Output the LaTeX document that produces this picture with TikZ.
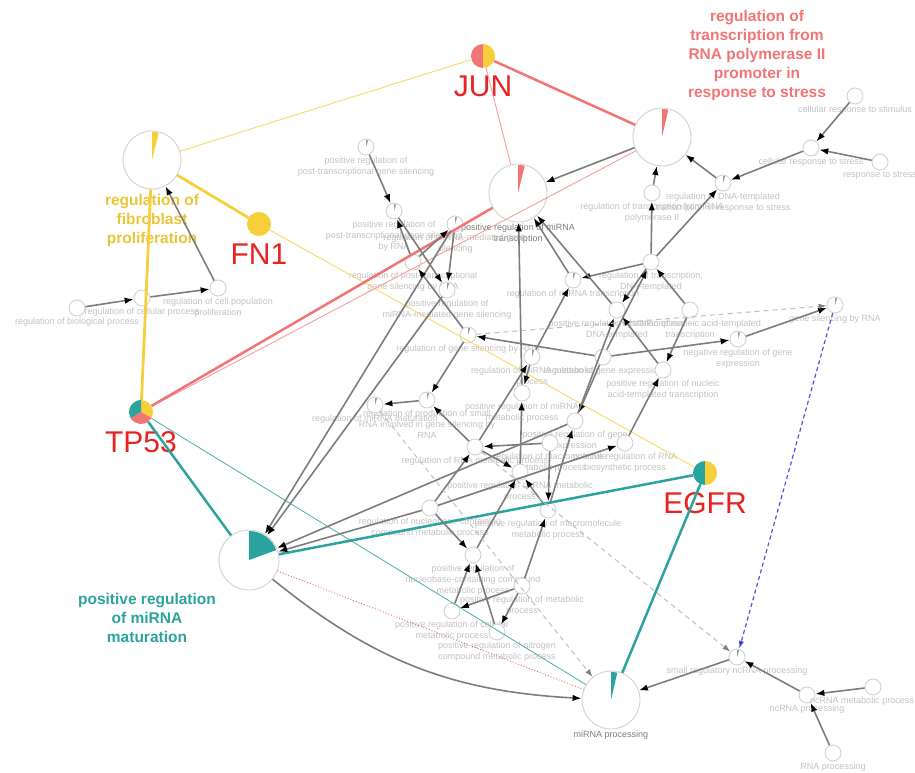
\documentclass[tikz,border=0pt]{standalone}
\usepackage{fontspec}
\setmainfont{Liberation Sans}
\usetikzlibrary{arrows.meta}

\definecolor{nodeb}{HTML}{D2D2D2}
\definecolor{lblc}{HTML}{C2C2C2}
\definecolor{lbld}{HTML}{7C7C7C}
\definecolor{edgec}{HTML}{7D7D7D}
\definecolor{genered}{HTML}{E8231F}
\definecolor{pinkc}{HTML}{F27474}
\definecolor{ylwc}{HTML}{F6CF3B}
\definecolor{tealc}{HTML}{2BA39E}
\definecolor{bluec}{HTML}{5252E0}
\definecolor{dashc}{HTML}{BEBEBE}
\definecolor{tickc}{HTML}{9A9A9A}

% one slice of a pie: node, colour, start angle, end angle, radius
\newcommand{\pieslice}[5]{\fill[#2] (#1.center) -- ++(#3:#5) arc[start angle=#3, end angle=#4, radius=#5] -- cycle;}

\begin{document}
\begin{tikzpicture}[x=1pt, y=-1pt,
    sm/.style = {draw=nodeb, fill=white, circle, minimum size=16pt, inner sep=0pt, line width=0.9pt},
    big/.style = {sm, minimum size=58pt},
    gene/.style = {circle, minimum size=24pt, inner sep=0pt},
    lbl/.style = {font=\fontsize{9}{11}\selectfont, text=lblc, align=center, inner sep=1pt},
    lbld/.style = {lbl, text=lbld},
    genel/.style = {font=\fontsize{30}{32}\selectfont, text=genered, label distance=6pt, inner sep=1pt},
    tfl/.style = {font=\bfseries\fontsize{15.5}{19}\selectfont, align=center},
    garrow/.style = {draw=edgec, line width=1.6pt, -{Latex[length=9pt, width=6.5pt, color=black]}},
    dasharrow/.style = {draw=dashc, line width=1pt, dash pattern=on 5pt off 4pt, -{Latex[length=8pt, width=5.5pt, color=gray]}},
    bluearrow/.style = {draw=bluec, line width=1.2pt, dash pattern=on 4pt off 3pt, -{Latex[length=8pt, width=5.5pt]}},
    yline/.style = {draw=ylwc!80, line width=0.9pt},
    ylinew/.style = {draw=ylwc, line width=2.8pt},
    pline/.style = {draw=pinkc!70, line width=0.9pt},
    plinew/.style = {draw=pinkc, line width=2.5pt},
    pdots/.style = {draw=pinkc!90!black, line width=0.9pt, dotted},
    tline/.style = {draw=tealc!80, line width=0.9pt},
    tlinew/.style = {draw=tealc, line width=2.5pt}]

\useasboundingbox (0,0) rectangle (915,773);

% terms with a pie
\node[big] (stressTF) at (662,137) {};
\node[big, label={[lbld]below:{positive regulation of miRNA\\transcription}}] (mirtx) at (518,193) {};
\node[big] (fibro) at (152,160) {};
\node[big, minimum size=60pt] (mat) at (249,560) {};
\node[big, label={[lbld]below:miRNA processing}] (mirproc) at (611,700) {};

% genes
\node[gene, label={[genel]below:JUN}] (JUN) at (483,56) {};
\node[gene, fill=ylwc, label={[genel]below:FN1}] (FN1) at (259,224) {};
\node[gene, label={[genel]below:TP53}] (TP53) at (141,412) {};
\node[gene, label={[genel]below:EGFR}] (EGFR) at (705,473) {};

% coloured titles
\node[tfl, text=pinkc] (stresslbl) at (757,55) {regulation of\\transcription from\\RNA polymerase II\\promoter in\\response to stress};
\node[tfl, text=ylwc!95!black] (fibrolbl) at (152,220) {regulation of\\fibroblast\\proliferation};
\node[tfl, text=tealc] (matlbl) at (147,618) {positive regulation\\of miRNA\\maturation};

% small terms
\node[sm, label={[lbl]below:cellular response to stimulus}] (stim) at (855,96) {};
\node[sm, label={[lbl]below:cellular response to stress}] (cstress) at (811,148) {};
\node[sm, label={[lbl]below:response to stress}] (rstress) at (880,162) {};
\node[sm, label={[lbl]below:{regulation of DNA-templated\\transcription in response to stress}}] (dtstress) at (723,183) {};
\node[sm, label={[lbl]below:{regulation of transcription from RNA\\polymerase II}}] (pol2) at (652,193) {};
\node[sm, label={[lbl]below:{regulation of transcription,\\DNA-templated}}] (rtxdna) at (651,262) {};
\node[sm, label={[lbl]below:{positive regulation of transcription,\\DNA-templated}}] (ptxdna) at (617,310) {};
\node[sm, label={[lbl]below:{regulation of nucleic acid-templated\\transcription}}] (rnat) at (690,310) {};
\node[sm, label={[lbl]below:regulation of gene expression}] (rgexp) at (603,357) {};
\node[sm, label={[lbl]below:{positive regulation of nucleic\\acid-templated transcription}}] (pnat) at (663,370) {};
\node[sm, label={[lbl]below:{negative regulation of gene\\expression}}] (ngexp) at (738,339) {};
\node[sm, label={[lbl]below:gene silencing by RNA}] (silrna) at (835,305) {};
\node[sm, label={[lbl]below:regulation of miRNA transcription}] (rmirtx) at (573,280) {};

\node[sm, label={[lbl]below:regulation of biological process}] (bio) at (77,308) {};
\node[sm, label={[lbl]below:regulation of cellular process}] (cellp) at (142,298) {};
\node[sm, label={[lbl]below:{regulation of cell population\\proliferation}}] (prolif) at (218,288) {};

\node[sm, label={[lbl]below:{positive regulation of\\post-transcriptional gene silencing}}] (pptgs) at (366,147) {};
\node[sm, label={[lbl]below:{positive regulation of\\post-transcriptional gene silencing\\by RNA}}] (pptgsrna) at (394,211) {};
\node[sm, label={[lbl]below:{regulation of miRNA-mediated gene\\silencing}}] (rmirsil) at (455,224) {};
\node[sm, label={[lbl]below:{regulation of post-transcriptional\\gene silencing by RNA}}] (rptgsrna) at (413,262) {};
\node[sm, label={[lbl]below:{positive regulation of\\miRNA-mediated gene silencing}}] (pmirsil) at (447,290) {};
\node[sm, label={[lbl]below:regulation of gene silencing by RNA}] (rsilrna) at (468,335) {};
\node[sm, label={[lbl]below:{regulation of miRNA metabolic\\process}}] (rmirmet) at (532,357) {};
\node[sm, label={[lbl]below:{positive regulation of miRNA\\metabolic process}}] (pmirmet) at (522,393) {};
\node[sm, label={[lbl]below:{regulation of production of small\\RNA involved in gene silencing by\\RNA}}] (rsmall) at (427,400) {};
\node[sm, label={[lbl]below:regulation of miRNA maturation}] (rmirmat) at (375,405) {};
\node[sm, label={[lbl]below:{positive regulation of gene\\expression}}] (pgexp) at (575,421) {};
\node[sm, label={[lbl]below:regulation of RNA metabolic process}] (rrnamet) at (475,447) {};
\node[sm, label={[lbl]below:{regulation of macromolecule\\metabolic process}}] (rmacro) at (550,443) {};
\node[sm, label={[lbl]below:{positive regulation of RNA\\biosynthetic process}}] (prnabio) at (625,443) {};
\node[sm, label={[lbl]below:{positive regulation of RNA metabolic\\process}}] (prnamet) at (520,472) {};
\node[sm, label={[lbl]below:{regulation of nucleobase-containing\\compound metabolic process}}] (rnucl) at (430,508) {};
\node[sm, label={[lbl]below:{positive regulation of macromolecule\\metabolic process}}] (pmacro) at (548,510) {};
\node[sm, label={[lbl]below:{positive regulation of\\nucleobase-containing compound\\metabolic process}}] (pnucl) at (473,555) {};
\node[sm, label={[lbl]below:{positive regulation of metabolic\\process}}] (pmet) at (522,586) {};
\node[sm, label={[lbl]below:{positive regulation of cellular\\metabolic process}}] (pcell) at (452,611) {};
\node[sm, label={[lbl]below:{positive regulation of nitrogen\\compound metabolic process}}] (pnitro) at (497,632) {};

\node[sm, label={[lbl]below:small regulatory ncRNA processing}] (srnc) at (737,657) {};
\node[sm, label={[lbl]below:ncRNA processing}] (ncproc) at (807,695) {};
\node[sm, label={[lbl, xshift=-11pt]below:ncRNA metabolic process}] (ncmet) at (873,687) {};
\node[sm, label={[lbl]below:RNA processing}] (rnaproc) at (833,753) {};

% pies
\pieslice{JUN}{pinkc}{90}{270}{12pt}
\pieslice{JUN}{ylwc}{270}{450}{12pt}
\pieslice{EGFR}{tealc}{90}{270}{12pt}
\pieslice{EGFR}{ylwc}{270}{450}{12pt}
\pieslice{TP53}{ylwc}{90}{-30}{12pt}
\pieslice{TP53}{pinkc}{-30}{-150}{12pt}
\pieslice{TP53}{tealc}{-150}{-270}{12pt}
\pieslice{stressTF}{pinkc}{90}{77}{28pt}
\pieslice{mirtx}{pinkc}{90}{76}{28pt}
\pieslice{fibro}{ylwc}{90}{76}{28pt}
\pieslice{mat}{tealc}{90}{20}{29pt}
\pieslice{mirproc}{tealc}{90}{77}{28pt}
\foreach \n in {pptgs,pptgsrna,rmirsil,pmirsil,rsilrna,rsmall,rmirmat,rmirmet,rmirtx,dtstress,silrna,ngexp,srnc}
  {\pieslice{\n}{tickc}{90}{72}{7pt}}

% gene to term links
\path[yline] (JUN) edge (fibro) (FN1) edge (EGFR);
\path[ylinew] (fibro) edge (FN1) (fibro) edge (TP53);
\path[pline] (JUN) edge (mirtx) (TP53) edge (stressTF);
\path[plinew] (JUN) edge (stressTF) (TP53) edge (mirtx);
\path[tline] (TP53) edge (mirproc);
\path[tlinew] (TP53) edge (mat) (EGFR) edge (mat) (EGFR) edge (mirproc);
\path[pdots] (mat) edge (mirproc);

% term hierarchy
\path[garrow]
    (stim) edge (cstress)
    (rstress) edge (cstress)
    (cstress) edge (dtstress)
    (dtstress) edge (stressTF)
    (pol2) edge (stressTF)
    (rtxdna) edge (pol2)
    (rtxdna) edge (dtstress)
    (rtxdna) edge (rmirtx)
    (rtxdna) edge (ptxdna)
    (rnat) edge (rtxdna)
    (rnat) edge (pnat)
    (pnat) edge (ptxdna)
    (rgexp) edge (rtxdna)
    (rgexp) edge (ngexp)
    (ngexp) edge (silrna)
    (rgexp) edge (rsilrna)
    (rgexp) edge (pgexp)
    (pgexp) edge (ptxdna)
    (rmirtx) edge (mirtx)
    (ptxdna) edge (mirtx)
    (stressTF) edge (mirtx)
    (pmirmet) edge (mirtx)
    (rmirmet) edge (rmirtx)
    (rmirmet) edge (pmirmet)
    (rrnamet) edge (rmirmet)
    (rrnamet) edge (rsmall)
    (rrnamet) edge (prnamet)
    (rmacro) edge (rrnamet)
    (rmacro) edge (pmacro)
    (pmacro) edge (pgexp)
    (pmacro) edge (prnamet)
    (prnamet) edge (pmirmet)
    (prnabio) edge (pnat)
    (rnucl) edge (prnabio)
    (rnucl) edge (rrnamet)
    (rnucl) edge (pnucl)
    (rnucl) edge (mat)
    (pnucl) edge (prnamet)
    (pcell) edge (pnucl)
    (pnitro) edge (pnucl)
    (pmet) edge (pcell)
    (pmet) edge (pnitro)
    (pmet) edge (pmacro)
    (pgexp) edge (mat)
    (pmirsil) edge (mat)
    (rmirsil) edge (mat)
    (rsilrna) edge (rptgsrna)
    (rsilrna) edge (rsmall)
    (rsmall) edge (rmirmat)
    (rptgsrna) edge (pptgsrna)
    (rptgsrna) edge (rmirsil)
    (pptgs) edge (pptgsrna)
    (pptgsrna) edge (pmirsil)
    (rmirsil) edge (pmirsil)
    (bio) edge (cellp)
    (cellp) edge (prolif)
    (prolif) edge (fibro)
    (srnc) edge (mirproc)
    (ncproc) edge (srnc)
    (ncmet) edge (ncproc)
    (rnaproc) edge (ncproc)
    (mat) edge[bend right=18] (mirproc);
\path[dasharrow] (rsilrna) edge (silrna) (rmirmat) edge (mirproc) (rrnamet) edge (srnc);
\path[bluearrow] (silrna) edge (srnc);
\end{tikzpicture}
\end{document}
